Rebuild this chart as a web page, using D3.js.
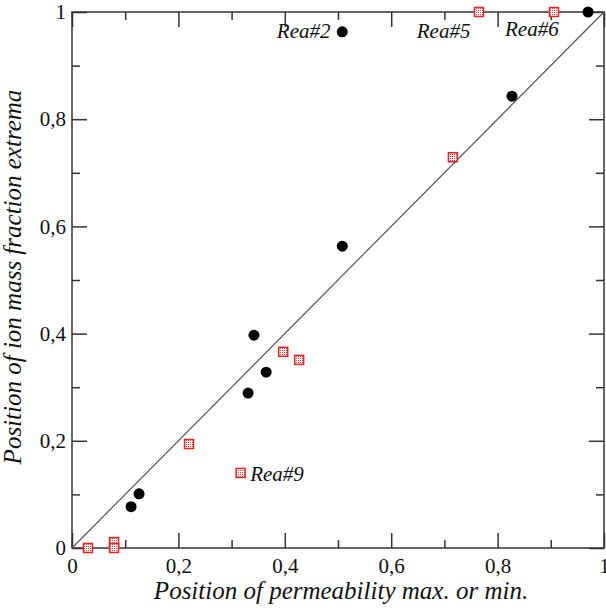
<!DOCTYPE html>
<html>
<head>
<meta charset="utf-8">
<script src="https://cdn.jsdelivr.net/npm/d3@7"></script>
<style>
  body { margin: 0; background: #fff; }
</style>
</head>
<body>
<svg id="chart" width="606" height="610"></svg>
<script>
// black dots (x, y)
let dotX = [0.970, 0.508, 0.827, 0.508, 0.342, 0.365, 0.331, 0.111, 0.126]
let dotY = [1.000, 0.963, 0.843, 0.563, 0.397, 0.328, 0.289, 0.077, 0.101]

// red squares (x, y)
let sqX = [0.765, 0.906, 0.716, 0.397, 0.427, 0.220, 0.317, 0.030, 0.079, 0.079]
let sqY = [1.000, 1.000, 0.729, 0.366, 0.351, 0.194, 0.140, 0.000, 0.011, 0.000]

// point labels
let labelText = ["Rea#2", "Rea#5", "Rea#6", "Rea#9"]
let labelX = [0.385, 0.648, 0.814, 0.335]
let labelY = [0.951, 0.951, 0.955, 0.125]

let majorTicks = [0, 0.2, 0.4, 0.6, 0.8, 1]
let minorTicks = [0.1, 0.3, 0.5, 0.7, 0.9]

let xTitle = "Position of permeability max. or min."
let yTitle = "Position of ion mass fraction extrema"

const FONT = '"Liberation Serif", "Times New Roman", "DejaVu Serif", serif'

let chart = d3.select('#chart'),
    margin = {top: 12, right: 2, bottom: 62, left: 72},
    width = +chart.attr('width') - margin.left - margin.right,
    height = +chart.attr('height') - margin.top - margin.bottom

let x = d3.scaleLinear().domain([0, 1]).range([0, width])
let y = d3.scaleLinear().domain([0, 1]).range([height, 0])

let g = chart.append("g").attr("transform", "translate(" + margin.left + "," + margin.top + ")")

let fmt = d => d === 0 || d === 1 ? String(d) : String(d).replace(".", ",")

// pattern for the squares
let pat = chart.append("defs").append("pattern")
    .attr("id", "hatch").attr("width", 2).attr("height", 2)
    .attr("patternUnits", "userSpaceOnUse")
pat.append("rect").attr("width", 2).attr("height", 2).attr("fill", "#fff")
pat.append("rect").attr("width", 1).attr("height", 1).attr("fill", "#f04040")

// axes with inward ticks on all sides
let styleAxis = (sel) => {
    sel.attr("font-family", FONT).attr("font-size", 21)
    sel.select(".domain").remove()
    sel.selectAll("line").attr("stroke", "#333").attr("stroke-width", 1.5)
    sel.selectAll("text").attr("fill", "#111")
}
let addAxis = (axisFn, scale, transform, withLabels) => {
    let major = g.append("g").attr("transform", transform)
        .call(axisFn(scale).tickValues(majorTicks).tickSizeInner(-15).tickSizeOuter(0)
            .tickPadding(withLabels ? 6 : 0).tickFormat(withLabels ? fmt : ""))
    styleAxis(major)
    let minor = g.append("g").attr("transform", transform)
        .call(axisFn(scale).tickValues(minorTicks).tickSizeInner(-8).tickSizeOuter(0).tickFormat(""))
    styleAxis(minor)
    return major
}
let bottom = addAxis(d3.axisBottom, x, "translate(0," + height + ")", true)
bottom.selectAll("text").attr("dy", "0.9em")
let left = addAxis(d3.axisLeft, y, "translate(0,0)", true)
addAxis(d3.axisTop, x, "translate(0,0)", false)
addAxis(d3.axisRight, y, "translate(" + width + ",0)", false)

// frame
g.append("rect")
    .attr("width", width).attr("height", height)
    .attr("fill", "none").attr("stroke", "#333").attr("stroke-width", 1.5)

// diagonal
g.append("line")
    .attr("x1", x(0)).attr("y1", y(0)).attr("x2", x(1)).attr("y2", y(1))
    .attr("stroke", "#555").attr("stroke-width", 1.2)

// squares
let sq = sqX.map((v, i) => ({x: v, y: sqY[i]}))
g.selectAll(".sq").data(sq).enter().append("rect")
    .attr("class", "sq")
    .attr("x", d => x(d.x) - 4.5).attr("y", d => y(d.y) - 4.5)
    .attr("width", 9).attr("height", 9)
    .attr("fill", "url(#hatch)").attr("stroke", "#ee2222").attr("stroke-width", 1.5)

// dots
let dots = dotX.map((v, i) => ({x: v, y: dotY[i]}))
g.selectAll(".dot").data(dots).enter().append("circle")
    .attr("class", "dot")
    .attr("cx", d => x(d.x)).attr("cy", d => y(d.y)).attr("r", 5.5)
    .attr("fill", "#000")

// labels
g.selectAll(".lab").data(labelText).enter().append("text")
    .attr("class", "lab")
    .attr("x", (d, i) => x(labelX[i])).attr("y", (d, i) => y(labelY[i]))
    .attr("font-family", FONT).attr("font-size", 21).attr("font-style", "italic").attr("fill", "#111")
    .text(d => d)

// axis titles
chart.append("text")
    .attr("x", 341).attr("y", 599)
    .attr("text-anchor", "middle").attr("font-family", FONT).attr("font-size", 25)
    .attr("font-style", "italic").attr("fill", "#111")
    .text(xTitle)

chart.append("text")
    .attr("transform", "translate(21,277) rotate(-90)")
    .attr("text-anchor", "middle").attr("font-family", FONT).attr("font-size", 25)
    .attr("font-style", "italic").attr("fill", "#111")
    .text(yTitle)
</script>
</body>
</html>
